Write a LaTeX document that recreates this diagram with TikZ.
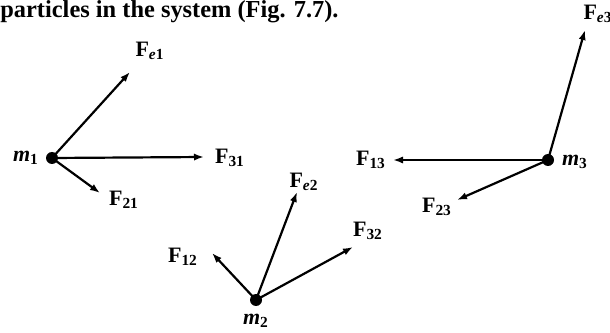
\documentclass[tikz,border=0pt]{standalone}
\usepackage{fontspec}
\setmainfont{Liberation Serif}
\usepackage{tikz}
\usetikzlibrary{arrows.meta}
\newcommand{\vF}[1]{\textbf{F}\textsubscript{\textbf{#1}}}
\newcommand{\mass}[1]{\textbf{\textit{m}}\textsubscript{\textbf{#1}}}
\tikzset{
  particle/.style={circle, fill=black, inner sep=0pt, minimum size=6pt},
  force/.style={-{Latex[length=5pt,width=3.6pt]}, line width=1.1pt},
  flabel/.style={inner sep=1pt, font=\bfseries\fontsize{11}{13}\selectfont}
}
\begin{document}
\begin{tikzpicture}[x=0.5pt, y=0.5pt, >=latex, font=\bfseries]
	\useasboundingbox (0,0) rectangle (610,332);
	% Textzeile
	\node[anchor=west, inner sep=0pt, font=\bfseries\fontsize{12.2}{14}\selectfont] (txt) at (0,320) {particles in the system (Fig. 7.7).};
	% Massenpunkte
	\node[particle] (m1) at (52,174) {};
	\node[particle] (m2) at (256,32) {};
	\node[particle] (m3) at (548,172) {};
	\node[flabel] (lm1) at (26,174) {\mass{1}};
	\node[flabel] (lm2) at (256,11) {\mass{2}};
	\node[flabel] (lm3) at (575,170) {\mass{3}};
	% Pfeilspitzen
	\coordinate (e1) at (130,260);
	\coordinate (t31) at (204,175);
	\coordinate (t21) at (100,139);
	\coordinate (e2) at (297,140);
	\coordinate (t12) at (212,79);
	\coordinate (t32) at (353,85);
	\coordinate (e3) at (585,302);
	\coordinate (t13) at (393,172);
	\coordinate (t23) at (457,132);
	% Kraefte
	\foreach \m/\t in {m1/e1, m1/t31, m1/t21, m2/e2, m2/t12, m2/t32, m3/e3, m3/t13, m3/t23}
		\draw[force] (\m.center) -- (\t);
	% Beschriftung
	\node[flabel] (le1) at (150,281) {\vF{\textit{e}1}};
	\node[flabel] (l31) at (230,174) {\vF{31}};
	\node[flabel] (l21) at (124,132) {\vF{21}};
	\node[flabel] (le2) at (304,150) {\vF{\textit{e}2}};
	\node[flabel] (l12) at (183,75) {\vF{12}};
	\node[flabel] (l32) at (368,101) {\vF{32}};
	\node[flabel] (le3) at (598,318) {\vF{\textit{e}3}};
	\node[flabel] (l13) at (371,172) {\vF{13}};
	\node[flabel] (l23) at (437,125) {\vF{23}};
\end{tikzpicture}
\end{document}
